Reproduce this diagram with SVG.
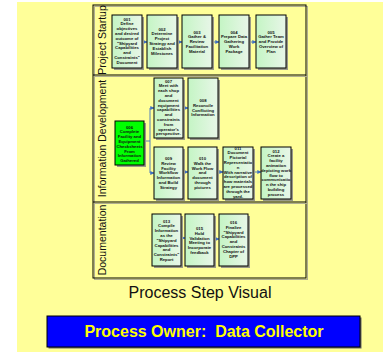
<svg xmlns="http://www.w3.org/2000/svg" width="385" height="354" viewBox="0 0 385 354">
<defs>
<linearGradient id="g" x1="0" y1="0" x2="1" y2="0">
<stop offset="0" stop-color="#c4f5c4"/>
<stop offset="1" stop-color="#e8f6e8"/>
</linearGradient>
<marker id="ah" viewBox="0 0 6 6" refX="5.5" refY="3" markerWidth="4" markerHeight="4" orient="auto" markerUnits="userSpaceOnUse">
<path d="M0,0 L6,3 L0,6 z" fill="#3f6fbf"/>
</marker>
</defs>
<style>
.box{fill:url(#g);stroke:#000;stroke-width:1}
.hot{fill:#00ff00;stroke:#000;stroke-width:1}
.sh{fill:#9a9a8a}
.t{font-family:"Liberation Sans",Arial,sans-serif;font-size:4.25px;font-weight:bold;fill:#111;text-anchor:middle}
.lane{font-family:"Liberation Sans",Arial,sans-serif;font-size:10.5px;fill:#111;text-anchor:middle}
.frame{fill:none;stroke:#000;stroke-width:1}
.fsh{fill:none;stroke:#b0ae90;stroke-width:1}
.c{fill:none;stroke:#3f6fbf;stroke-width:0.9}
.a{fill:none;stroke:#3f6fbf;stroke-width:0.9;marker-end:url(#ah)}
</style>
<rect x="17" y="2" width="366" height="350" fill="#ffff99"/>
<g id="frame">
<rect class="fsh" x="94.5" y="6.5" width="213" height="273"/>
<rect class="frame" x="93" y="5" width="213" height="273"/>
<line class="fsh" x1="94" y1="76.5" x2="307.5" y2="76.5"/>
<line class="fsh" x1="94" y1="203.5" x2="307.5" y2="203.5"/>
<line class="frame" x1="93" y1="75" x2="306" y2="75"/>
<line class="frame" x1="93" y1="202" x2="306" y2="202"/>
<text class="lane" transform="translate(105.5,40) rotate(-90)">Project Startup</text>
<text class="lane" transform="translate(105.5,138.5) rotate(-90)">Information Development</text>
<text class="lane" transform="translate(105.5,240) rotate(-90)">Documentation</text>
</g>
<g id="connectors">
<line class="a" x1="142" y1="42" x2="147" y2="42"/>
<line class="a" x1="177" y1="42" x2="182" y2="42"/>
<line class="a" x1="212" y1="42" x2="219" y2="42"/>
<line class="a" x1="249" y1="42" x2="256" y2="42"/>
<polyline class="c" points="144,141 150,141"/>
<line class="c" x1="150" y1="108" x2="150" y2="173"/>
<line class="a" x1="150" y1="108" x2="154" y2="108"/>
<line class="a" x1="150" y1="173" x2="154" y2="173"/>
<line class="a" x1="183" y1="108" x2="188" y2="108"/>
<line class="a" x1="183" y1="172" x2="188" y2="172"/>
<line class="a" x1="217" y1="172" x2="223" y2="172"/>
<line class="a" x1="253" y1="172" x2="261" y2="172"/>
<line class="a" x1="181" y1="238" x2="185" y2="238"/>
<line class="a" x1="214" y1="239" x2="219" y2="239"/>
</g>
<g id="n001"><rect class="sh" x="114" y="17" width="30" height="53"/><rect class="box" x="112" y="15" width="30" height="53"/>
<text class="t" x="127" y="20.5"><tspan x="127">001</tspan><tspan x="127" dy="4.8">Define</tspan><tspan x="127" dy="4.8">objectives</tspan><tspan x="127" dy="4.8">and desired</tspan><tspan x="127" dy="4.8">outcome of</tspan><tspan x="127" dy="4.8">"Shipyard</tspan><tspan x="127" dy="4.8">Capabilities</tspan><tspan x="127" dy="4.8">and</tspan><tspan x="127" dy="4.8">Constraints"</tspan><tspan x="127" dy="4.8">Document</tspan></text></g>
<g id="n002"><rect class="sh" x="149" y="17" width="30" height="53"/><rect class="box" x="147" y="15" width="30" height="53"/>
<text class="t" x="162" y="30.5"><tspan x="162">002</tspan><tspan x="162" dy="4.8">Determine</tspan><tspan x="162" dy="4.8">Project</tspan><tspan x="162" dy="4.8">Strategy and</tspan><tspan x="162" dy="4.8">Establish</tspan><tspan x="162" dy="4.8">Milestones</tspan></text></g>
<g id="n003"><rect class="sh" x="184" y="17" width="30" height="53"/><rect class="box" x="182" y="15" width="30" height="53"/>
<text class="t" x="197" y="33.5"><tspan x="197">003</tspan><tspan x="197" dy="4.8">Gather &amp;</tspan><tspan x="197" dy="4.8">Review</tspan><tspan x="197" dy="4.8">Facilitation</tspan><tspan x="197" dy="4.8">Material</tspan></text></g>
<g id="n004"><rect class="sh" x="221" y="17" width="30" height="53"/><rect class="box" x="219" y="15" width="30" height="53"/>
<text class="t" x="234" y="33.5"><tspan x="234">004</tspan><tspan x="234" dy="4.8">Prepare Data</tspan><tspan x="234" dy="4.8">Gathering</tspan><tspan x="234" dy="4.8">Work</tspan><tspan x="234" dy="4.8">Package</tspan></text></g>
<g id="n005"><rect class="sh" x="258" y="17" width="30" height="53"/><rect class="box" x="256" y="15" width="30" height="53"/>
<text class="t" x="271" y="33.5"><tspan x="271">005</tspan><tspan x="271" dy="4.8">Gather Team</tspan><tspan x="271" dy="4.8">and Provide</tspan><tspan x="271" dy="4.8">Overview of</tspan><tspan x="271" dy="4.8">Plan</tspan></text></g>
<g id="n006"><rect class="sh" x="117" y="123" width="29" height="44"/><rect class="hot" x="115" y="121" width="29" height="44"/>
<text class="t" x="129.5" y="128.5"><tspan x="129.5">006</tspan><tspan x="129.5" dy="4.8">Complete</tspan><tspan x="129.5" dy="4.8">Facility and</tspan><tspan x="129.5" dy="4.8">Equipment</tspan><tspan x="129.5" dy="4.8">Checksheets</tspan><tspan x="129.5" dy="4.8">From</tspan><tspan x="129.5" dy="4.8">Information</tspan><tspan x="129.5" dy="4.8">Gathered</tspan></text></g>
<g id="n007"><rect class="sh" x="156" y="80" width="29" height="60"/><rect class="box" x="154" y="78" width="29" height="60"/>
<text class="t" x="168.5" y="82.5"><tspan x="168.5">007</tspan><tspan x="168.5" dy="4.8">Meet with</tspan><tspan x="168.5" dy="4.8">each shop</tspan><tspan x="168.5" dy="4.8">and</tspan><tspan x="168.5" dy="4.8">document</tspan><tspan x="168.5" dy="4.8">equipment</tspan><tspan x="168.5" dy="4.8">capabilities</tspan><tspan x="168.5" dy="4.8">and</tspan><tspan x="168.5" dy="4.8">constraints</tspan><tspan x="168.5" dy="4.8">from</tspan><tspan x="168.5" dy="4.8">operator's</tspan><tspan x="168.5" dy="4.8">perspective.</tspan></text></g>
<g id="n008"><rect class="sh" x="190" y="80" width="30" height="60"/><rect class="box" x="188" y="78" width="30" height="60"/>
<text class="t" x="203" y="102"><tspan x="203">008</tspan><tspan x="203" dy="4.8">Reconcile</tspan><tspan x="203" dy="4.8">Conflicting</tspan><tspan x="203" dy="4.8">Information</tspan></text></g>
<g id="n009"><rect class="sh" x="156" y="149" width="29" height="52"/><rect class="box" x="154" y="147" width="29" height="52"/>
<text class="t" x="168.5" y="160"><tspan x="168.5">009</tspan><tspan x="168.5" dy="4.8">Review</tspan><tspan x="168.5" dy="4.8">Facility</tspan><tspan x="168.5" dy="4.8">Workflow</tspan><tspan x="168.5" dy="4.8">Information</tspan><tspan x="168.5" dy="4.8">and Build</tspan><tspan x="168.5" dy="4.8">Strategy</tspan></text></g>
<g id="n010"><rect class="sh" x="190" y="149" width="29" height="52"/><rect class="box" x="188" y="147" width="29" height="52"/>
<text class="t" x="202.5" y="160"><tspan x="202.5">010</tspan><tspan x="202.5" dy="4.8">Walk the</tspan><tspan x="202.5" dy="4.8">Work Flow</tspan><tspan x="202.5" dy="4.8">and</tspan><tspan x="202.5" dy="4.8">document</tspan><tspan x="202.5" dy="4.8">through</tspan><tspan x="202.5" dy="4.8">pictures</tspan></text></g>
<g id="n011"><rect class="sh" x="225" y="149" width="30" height="52"/><rect class="box" x="223" y="147" width="30" height="52"/>
<text class="t" x="238" y="149.5"><tspan x="238">011</tspan><tspan x="238" dy="4.8">Document</tspan><tspan x="238" dy="4.8">Pictorial</tspan><tspan x="238" dy="4.8">Representatio</tspan><tspan x="238" dy="4.8">n</tspan><tspan x="238" dy="4.8">With narrative</tspan><tspan x="238" dy="4.8">description of</tspan><tspan x="238" dy="4.8">how materials</tspan><tspan x="238" dy="4.8">are processed</tspan><tspan x="238" dy="4.8">through the</tspan><tspan x="238" dy="4.8">yard.</tspan></text></g>
<g id="n012"><rect class="sh" x="263" y="149" width="30" height="52"/><rect class="box" x="261" y="147" width="30" height="52"/>
<text class="t" x="276" y="152.5"><tspan x="276">012</tspan><tspan x="276" dy="4.8">Create a</tspan><tspan x="276" dy="4.8">facility</tspan><tspan x="276" dy="4.8">animation</tspan><tspan x="276" dy="4.8">depicting work</tspan><tspan x="276" dy="4.8">flow to</tspan><tspan x="276" dy="4.8">communicatio</tspan><tspan x="276" dy="4.8">n the ship</tspan><tspan x="276" dy="4.8">building</tspan><tspan x="276" dy="4.8">process</tspan></text></g>
<g id="n013"><rect class="sh" x="154" y="216" width="29" height="52"/><rect class="box" x="152" y="214" width="29" height="52"/>
<text class="t" x="166.5" y="222.5"><tspan x="166.5">013</tspan><tspan x="166.5" dy="4.8">Compile</tspan><tspan x="166.5" dy="4.8">Information</tspan><tspan x="166.5" dy="4.8">as the</tspan><tspan x="166.5" dy="4.8">"Shipyard</tspan><tspan x="166.5" dy="4.8">Capabilities</tspan><tspan x="166.5" dy="4.8">and</tspan><tspan x="166.5" dy="4.8">Constraints"</tspan><tspan x="166.5" dy="4.8">Report</tspan></text></g>
<g id="n015"><rect class="sh" x="187" y="216" width="29" height="52"/><rect class="box" x="185" y="214" width="29" height="52"/>
<text class="t" x="199.5" y="230"><tspan x="199.5">015</tspan><tspan x="199.5" dy="4.8">Hold</tspan><tspan x="199.5" dy="4.8">Validation</tspan><tspan x="199.5" dy="4.8">Meeting to</tspan><tspan x="199.5" dy="4.8">Incorporate</tspan><tspan x="199.5" dy="4.8">feedback</tspan></text></g>
<g id="n016"><rect class="sh" x="221" y="216" width="29" height="52"/><rect class="box" x="219" y="214" width="29" height="52"/>
<text class="t" x="233.5" y="224"><tspan x="233.5">016</tspan><tspan x="233.5" dy="4.8">Finalize</tspan><tspan x="233.5" dy="4.8">"Shipyard</tspan><tspan x="233.5" dy="4.8">Capabilities</tspan><tspan x="233.5" dy="4.8">and</tspan><tspan x="233.5" dy="4.8">Constraints</tspan><tspan x="233.5" dy="4.8">Chapter of</tspan><tspan x="233.5" dy="4.8">DPP</tspan></text></g>
<text x="200" y="298" font-family="'Liberation Sans',Arial,sans-serif" font-size="16" fill="#111" text-anchor="middle">Process Step Visual</text>
<g id="owner">
<rect x="48.5" y="317.5" width="313" height="31" fill="#666"/>
<rect x="47" y="316" width="313" height="31" fill="#0000ff" stroke="#000" stroke-width="1"/>
<text x="204" y="337" font-family="'Liberation Sans',Arial,sans-serif" font-size="16" font-weight="bold" fill="#ffff00" text-anchor="middle" xml:space="preserve">Process Owner:  Data Collector</text>
</g>
</svg>
